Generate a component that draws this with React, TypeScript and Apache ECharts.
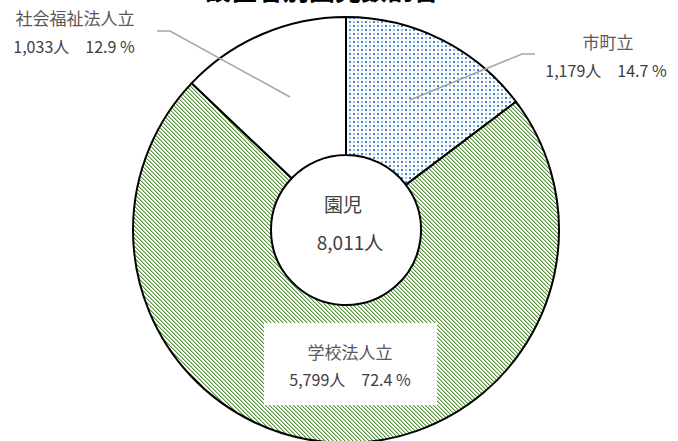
import React, { useEffect, useRef } from "react";
import * as echarts from "echarts";

const titleText = "設置者別園児数割合";
const categories = ["市町立", "学校法人立", "社会福祉法人立"];
const counts = [1179, 5799, 1033];
const percents = [14.7, 72.4, 12.9];
const centerName = "園児";
const totalCount = 8011;

const FONT = '"Noto Sans CJK JP", "Noto Sans", sans-serif';

function makeDots(): HTMLCanvasElement {
  const c = document.createElement("canvas");
  c.width = 8;
  c.height = 8;
  const g = c.getContext("2d")!;
  g.fillStyle = "#ffffff";
  g.fillRect(0, 0, 8, 8);
  g.fillStyle = "#3f82c8";
  g.fillRect(1, 1, 2, 2);
  g.fillRect(5, 5, 2, 2);
  g.fillStyle = "#9cc2e8";
  g.fillRect(5, 1, 2, 2);
  g.fillRect(1, 5, 2, 2);
  return c;
}

function makeHatch(): HTMLCanvasElement {
  const c = document.createElement("canvas");
  c.width = 4;
  c.height = 4;
  const g = c.getContext("2d")!;
  g.fillStyle = "#ffffff";
  g.fillRect(0, 0, 4, 4);
  for (let i = 0; i < 4; i++) {
    g.fillStyle = "#5b9440";
    g.fillRect(i, i, 1, 1);
    g.fillStyle = "#b4d2a0";
    g.fillRect((i + 1) % 4, i, 1, 1);
  }
  return c;
}

const fmt = (n: number) => n.toLocaleString("en-US");

export default function App() {
  const ref = useRef<HTMLDivElement>(null);
  useEffect(() => {
    if (!ref.current) return;
    const chart = echarts.init(ref.current, undefined, { renderer: "svg" });
    const fills: any[] = [
      { image: makeDots(), repeat: "repeat" },
      { image: makeHatch(), repeat: "repeat" },
      "#ffffff",
    ];
    const valueLine = (i: number) => `${fmt(counts[i])}人　${percents[i]} %`;
    const txt = (text: string, x: number, y: number, size: number, fill: string, weight: any = "normal") => ({
      type: "text",
      z: 100,
      silent: true,
      style: {
        text,
        x,
        y,
        fill,
        fontSize: size,
        fontFamily: FONT,
        fontWeight: weight,
        align: "center",
        verticalAlign: "middle",
      },
    });
    chart.setOption({
      animation: false,
      backgroundColor: "#ffffff",
      graphic: [
        txt(titleText, 322, -12, 26, "#000000", "bold"),
        // 社会福祉法人立
        {
          type: "polyline",
          z: 100,
          silent: true,
          shape: { points: [[157, 31], [170, 31], [290, 97]] },
          style: { stroke: "#a6a6a6", lineWidth: 1.5, fill: "none" },
        },
        txt(categories[2], 75, 17, 17, "#595959"),
        txt(valueLine(2), 74, 46, 16, "#404040"),
        // 市町立
        {
          type: "polyline",
          z: 100,
          silent: true,
          shape: { points: [[410, 100], [522, 54], [535, 54]] },
          style: { stroke: "#a6a6a6", lineWidth: 1.5, fill: "none" },
        },
        txt(categories[0], 608, 41, 17, "#595959"),
        txt(valueLine(0), 606, 70, 16, "#404040"),
        // 学校法人立
        {
          type: "rect",
          z: 99,
          silent: true,
          shape: { x: 264, y: 323, width: 173, height: 82 },
          style: { fill: "#ffffff" },
        },
        txt(categories[1], 350, 351, 17, "#595959"),
        txt(valueLine(1), 350, 379, 16, "#404040"),
        // center
        txt(centerName, 343, 203, 19, "#404040"),
        txt(`${fmt(totalCount)}人`, 350, 241, 19, "#404040"),
      ],
      series: [
        {
          type: "pie",
          center: [346, 230],
          radius: [75, 213],
          startAngle: 90,
          clockwise: true,
          silent: true,
          label: { show: false },
          labelLine: { show: false },
          emphasis: { disabled: true },
          itemStyle: { borderColor: "#000000", borderWidth: 2 },
          data: categories.map((name, i) => ({
            name,
            value: counts[i],
            itemStyle: { color: fills[i] },
          })),
        },
      ],
    });
    return () => chart.dispose();
  }, []);
  return (
    <div
      ref={ref}
      style={{ position: "absolute", left: 0, top: 0, width: 678, height: 441, background: "#fff" }}
    />
  );
}
